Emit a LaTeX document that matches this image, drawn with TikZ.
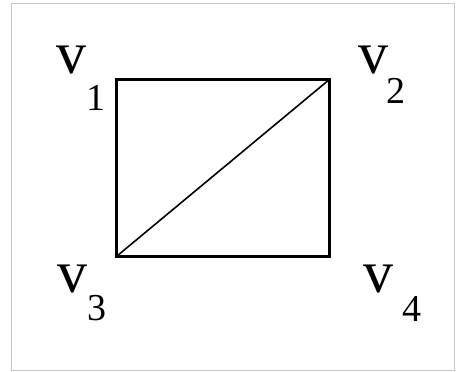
\documentclass[tikz,border=0pt]{standalone}
\usepackage{fontspec}
\setmainfont{Liberation Serif}
\usepackage{tikz}
\usetikzlibrary{positioning}

\begin{document}
\begin{tikzpicture}[x=0.5pt, y=0.5pt,
        frame/.style={draw=black!22, line width=0.5pt},
        side/.style={draw, line width=1.5pt, line join=miter},
        diag/.style={draw, line width=0.8pt},
        vname/.style={inner sep=0pt, outer sep=0pt, anchor=base, font=\fontsize{30}{36}\selectfont},
        vsub/.style={inner sep=0pt, outer sep=0pt, anchor=base, font=\fontsize{19}{23}\selectfont}]

        \useasboundingbox (0,0) rectangle (457,371);
        \draw[frame] (12,1) rectangle (455,368);

        % Corners of the square
        \coordinate (c1) at (117,292);
        \coordinate (c2) at (330,292);
        \coordinate (c3) at (117,115);
        \coordinate (c4) at (330,115);

        \draw[side] (c1) -- (c2) -- (c4) -- (c3) -- cycle;
        \draw[diag] (c3) -- (c2);

        % Vertex labels
        \node[vname] (l1) at (71.5,298) {v};
        \node[vsub] (s1) at (96.5,261) {1};
        \node[vname] (l2) at (374,298) {v};
        \node[vsub] (s2) at (396.5,268) {2};
        \node[vname] (l3) at (72.5,78) {v};
        \node[vsub] (s3) at (97,51) {3};
        \node[vname] (l4) at (378.5,78) {v};
        \node[vsub] (s4) at (412,49) {4};
    \end{tikzpicture}
\end{document}
